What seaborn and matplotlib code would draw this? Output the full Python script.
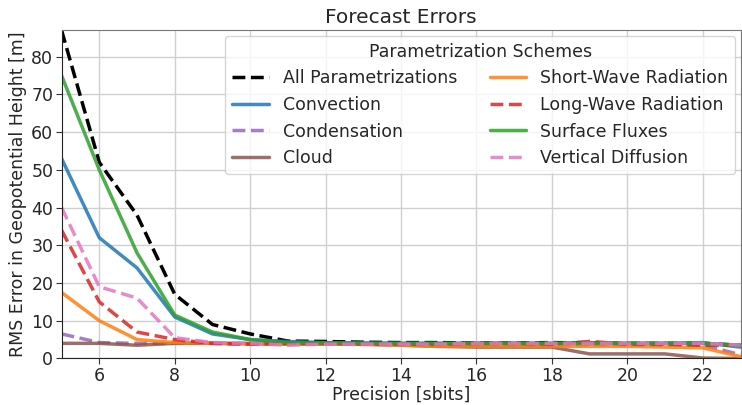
import numpy as np
import pandas as pd
import matplotlib
matplotlib.use('Agg')
import matplotlib.pyplot as plt
import seaborn as sns

sns.set_style('whitegrid')
plt.rcParams['font.family'] = ['DejaVu Sans']

precision = [5, 6, 7, 8, 9, 10, 11, 12, 13, 14, 15, 16, 17, 18, 19, 20, 21, 22, 23]

all_param = [87, 52, 38, 17, 9, 6.5, 4.6, 4.5, 4.3, 4.2, 4.2, 4.1, 4.1, 4.2, 4.1, 4.0, 4.0, 4.0, 3.5]
convection = [53, 32, 24, 11, 6.5, 5.0, 4.5, 4.2, 4.1, 4.0, 4.0, 4.0, 4.0, 4.0, 4.0, 4.0, 4.0, 4.2, 3.0]
condensation = [6.5, 4.2, 4.0, 4.0, 4.0, 3.8, 3.8, 3.8, 3.8, 3.8, 3.7, 3.7, 3.7, 3.6, 3.6, 3.6, 3.5, 3.5, 1.0]
cloud = [4.0, 4.0, 3.5, 4.0, 4.0, 4.0, 3.9, 3.8, 3.8, 3.5, 3.2, 3.0, 3.0, 3.0, 1.2, 1.2, 1.2, 0.1, 0.0]
short_wave = [17.5, 10, 5.0, 4.2, 4.0, 3.8, 3.8, 3.8, 3.7, 3.5, 3.2, 3.2, 3.2, 3.2, 3.2, 3.2, 3.0, 2.8, 0.5]
long_wave = [34, 15, 7.0, 5.0, 4.0, 3.8, 4.0, 4.0, 3.8, 3.8, 3.8, 4.0, 4.0, 3.8, 4.5, 3.8, 3.8, 3.5, 3.5]
surface = [75, 50, 28, 11.5, 7.0, 5.0, 4.2, 4.1, 4.0, 4.0, 4.0, 4.0, 4.0, 4.0, 4.0, 4.0, 4.0, 4.0, 3.5]
vert_diff = [40, 19, 16, 5.5, 4.2, 4.0, 3.5, 3.8, 3.8, 3.8, 3.8, 4.0, 4.0, 4.0, 4.0, 4.0, 4.0, 4.0, 3.5]

series = [
    ('All Parametrizations', all_param, 'black', '--'),
    ('Convection', convection, 'C0', '-'),
    ('Condensation', condensation, 'C4', '--'),
    ('Cloud', cloud, 'C5', '-'),
    ('Short-Wave Radiation', short_wave, 'C1', '-'),
    ('Long-Wave Radiation', long_wave, 'C3', '--'),
    ('Surface Fluxes', surface, 'C2', '-'),
    ('Vertical Diffusion', vert_diff, 'C6', '--'),
]

fig, ax = plt.subplots(figsize=(7.42, 4.05), dpi=100)
for name, vals, col, ls in series:
    df = pd.DataFrame({'precision': precision, 'rmse': vals})
    sns.lineplot(data=df, x='precision', y='rmse', ax=ax, color=col,
                 linestyle=ls, linewidth=2.5, label=name,
                 alpha=1.0 if col == 'black' else 0.85)

ax.set_xlim(5, 23)
ax.set_ylim(0, 87)
ax.set_xticks([6, 8, 10, 12, 14, 16, 18, 20, 22])
ax.set_yticks([0, 10, 20, 30, 40, 50, 60, 70, 80])
ax.grid(True, color='#d0d0d0', linewidth=1)
for s in ['left', 'bottom']:
    ax.spines[s].set_color('#222222')
for s in ['top', 'right']:
    ax.spines[s].set_color('#777777')
ax.tick_params(labelsize=12.5, length=4, color='#333333', left=True, bottom=True, pad=2)
ax.set_xlabel('Precision [sbits]', fontsize=12.5, labelpad=1)
ax.set_ylabel('RMS Error in Geopotential Height [m]', fontsize=12.5, labelpad=3)
ax.set_title('Forecast Errors', fontsize=14.5, pad=5)
leg = ax.legend(ncol=2, title='Parametrization Schemes', fontsize=12.5,
                title_fontsize=12.5, loc='upper right', frameon=True,
                handlelength=2.1, handletextpad=0.8, columnspacing=1.9,
                borderaxespad=0.3)

fig.subplots_adjust(left=0.083, right=0.998, top=0.925, bottom=0.115)
fig.savefig('out.png', dpi=100)
